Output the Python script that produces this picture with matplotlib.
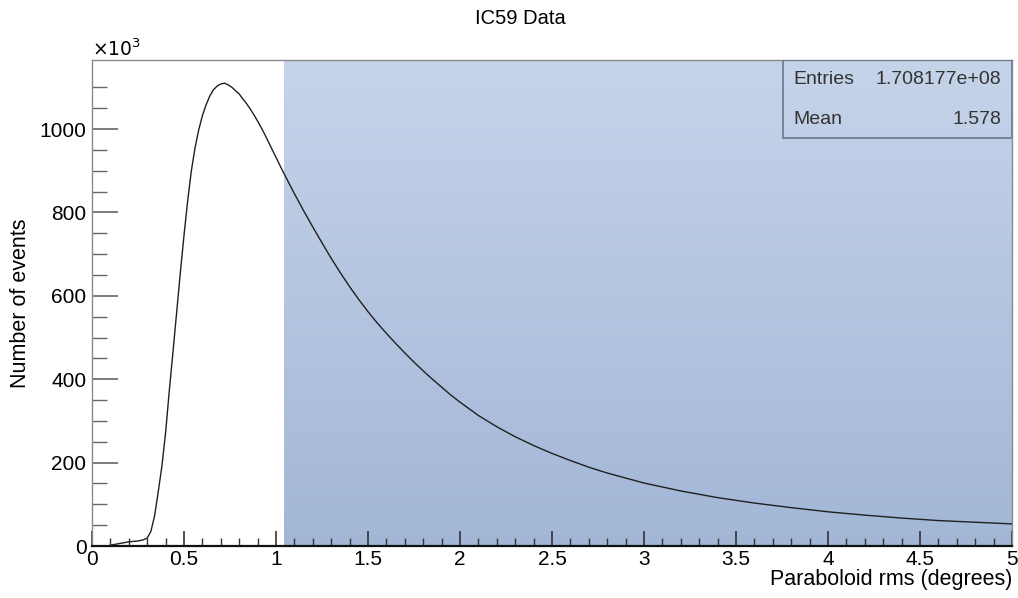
import numpy as np
import matplotlib
matplotlib.use("Agg")
import matplotlib.pyplot as plt
from matplotlib.colors import LinearSegmentedColormap
from matplotlib.patches import Rectangle

plt.rcParams['font.family'] = ['Liberation Sans', 'DejaVu Sans']

# Paraboloid rms (degrees) and event counts (in units of 10^3)
rms_deg = [0.10, 0.15, 0.20, 0.25, 0.28, 0.30, 0.32, 0.34, 0.36, 0.38,
           0.40, 0.42, 0.44, 0.46, 0.48, 0.50, 0.52, 0.54, 0.56,
           0.58, 0.60, 0.62, 0.64, 0.66, 0.68, 0.70, 0.72, 0.74, 0.76,
           0.78, 0.80, 0.82, 0.84, 0.86, 0.88, 0.90, 0.92, 0.94, 0.96,
           0.98, 1.00, 1.02, 1.04, 1.10, 1.15, 1.20, 1.25, 1.30, 1.35,
           1.40, 1.45, 1.50, 1.55, 1.60, 1.65, 1.70, 1.75, 1.80, 1.85,
           1.90, 1.95, 2.00, 2.10, 2.20, 2.30, 2.40, 2.50, 2.60, 2.70,
           2.80, 2.90, 3.00, 3.20, 3.40, 3.60, 3.80, 4.00, 4.20,
           4.40, 4.60, 4.80, 5.00]
events_k = [2, 6, 10, 12, 15, 19, 35, 72, 130, 192,
            272, 372, 465, 560, 655, 745, 828, 900, 955,
            998, 1032, 1058, 1079, 1094, 1103, 1108, 1110, 1106, 1100,
            1092, 1084, 1072, 1061, 1048, 1034, 1019, 1003, 986, 968,
            950, 932, 914, 896, 845, 804, 765, 727, 690, 655,
            622, 591, 562, 535, 510, 486, 463, 441, 420, 400,
            381, 362, 345, 313, 286, 262, 241, 222, 205, 189,
            175, 163, 151, 132, 116, 103, 92, 82, 74,
            67, 61, 57, 53]

cut_start = 1.045
entries_text = "1.708177e+08"
mean_text = "1.578"

fig = plt.figure(figsize=(10.18, 5.98), dpi=100)
ax = fig.add_axes([92 / 1018, 1 - 546 / 598, 920 / 1018, 486 / 598])

ymax = 1.05 * max(events_k)
ax.set_xlim(0, 5)
ax.set_ylim(0, ymax)

# shaded selection region with a vertical gradient
cmap = LinearSegmentedColormap.from_list("shade", ["#a2b6d6", "#c6d4ea"])
grad = np.linspace(0, 1, 256).reshape(-1, 1)
ax.imshow(grad, cmap=cmap, origin="lower", aspect="auto",
          extent=[cut_start, 5, 0, ymax], zorder=0)

ax.plot(rms_deg, events_k, color="#202020", lw=1.0, zorder=3)

# axes styling
for side in ["left", "top", "right"]:
    ax.spines[side].set_color("#8a8a8a")
    ax.spines[side].set_linewidth(1.0)
ax.spines["bottom"].set_color("#111111")
ax.spines["bottom"].set_linewidth(1.6)

ax.set_xticks(np.arange(0, 5.01, 0.5))
ax.set_xticks(np.arange(0, 5.01, 0.1), minor=True)
ax.set_xticklabels(["0", "0.5", "1", "1.5", "2", "2.5", "3", "3.5", "4", "4.5", "5"])
ax.set_yticks(np.arange(0, 1100, 200))
ax.set_yticks(np.arange(0, 1150, 50), minor=True)
ax.set_yticklabels(["0", "200", "400", "600", "800", "1000"])

ax.tick_params(axis="x", which="major", direction="in", length=11, width=1.2,
               color="#333333", labelsize=15, pad=3)
ax.tick_params(axis="x", which="minor", direction="in", length=6, width=1.0,
               color="#333333")
ax.tick_params(axis="y", which="major", direction="in", length=19, width=1.2,
               color="#666666", labelsize=15, pad=4)
ax.tick_params(axis="y", which="minor", direction="in", length=10.5, width=1.0,
               color="#666666")

ax.set_xlabel("Paraboloid rms (degrees)", fontsize=15.5, loc="right", labelpad=0)
ax.set_ylabel("Number of events", fontsize=15.5, labelpad=6)

fig.text(520 / 1018, 1 - 18 / 598, "IC59 Data", ha="center", va="center", fontsize=14.5)
ax.text(0.0, 1.0, r"$\times10^{3}$", transform=ax.transAxes, ha="left", va="bottom",
        fontsize=13.5)

# statistics box
bx0 = (783 - 92) / 920
by0 = 1 - (138 - 60) / 486
ax.add_patch(Rectangle((bx0, by0), 1 - bx0, 1 - by0, transform=ax.transAxes,
                       fill=False, edgecolor="#6a7688", lw=1.2, zorder=5))
row1 = 1 - (80 - 60) / 486
row2 = 1 - (119 - 60) / 486
ax.text((793 - 92) / 920, row1, "Entries", transform=ax.transAxes,
        ha="left", va="center", fontsize=14, color="#333333", zorder=6)
ax.text((1001 - 92) / 920, row1, entries_text, transform=ax.transAxes,
        ha="right", va="center", fontsize=14, color="#333333", zorder=6)
ax.text((793 - 92) / 920, row2, "Mean", transform=ax.transAxes,
        ha="left", va="center", fontsize=14, color="#333333", zorder=6)
ax.text((1001 - 92) / 920, row2, mean_text, transform=ax.transAxes,
        ha="right", va="center", fontsize=14, color="#333333", zorder=6)

fig.savefig("out.png", dpi=100)
